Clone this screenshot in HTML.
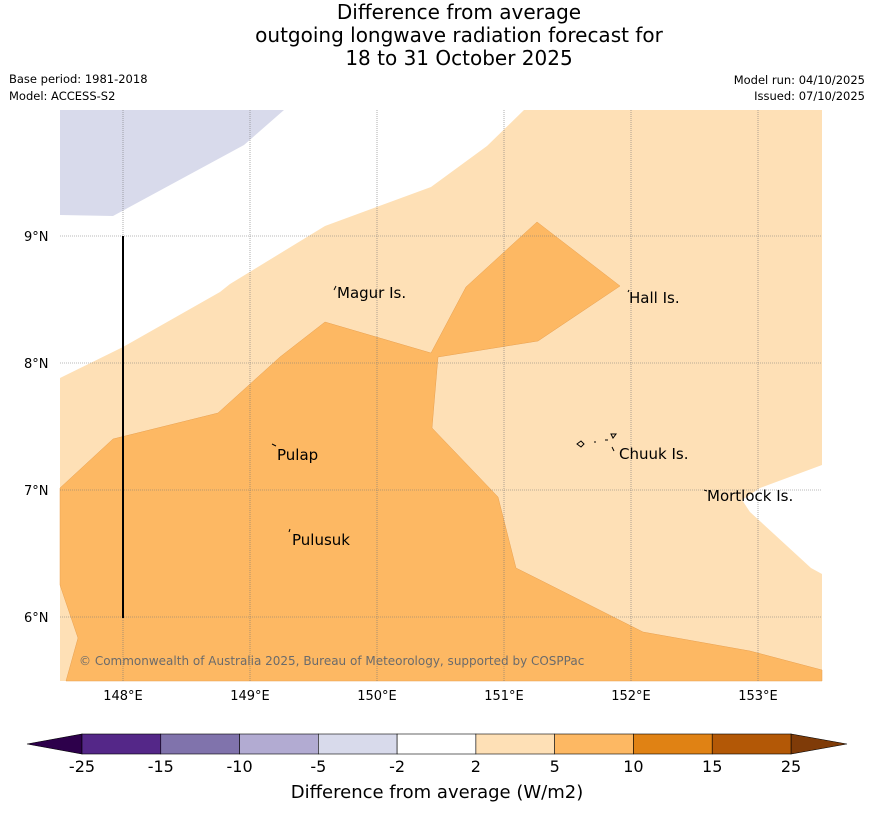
<!DOCTYPE html>
<html><head><meta charset="utf-8"><style>
body{margin:0;background:#fff;font-family:"Liberation Sans","DejaVu Sans",sans-serif}
</style></head><body>
<svg width="873" height="816" viewBox="0 0 873 816" style="display:block">
<g font-family="DejaVu Sans, Liberation Sans, sans-serif" fill="#000">
<text x="459" y="19" text-anchor="middle" font-size="20">Difference from average</text>
<text x="459" y="42" text-anchor="middle" font-size="20">outgoing longwave radiation forecast for</text>
<text x="459" y="65" text-anchor="middle" font-size="20">18 to 31 October 2025</text>
<text x="9" y="83" font-size="11.5">Base period: 1981-2018</text>
<text x="9" y="100" font-size="11.5">Model: ACCESS-S2</text>
<text x="865" y="84" font-size="11.5" text-anchor="end">Model run: 04/10/2025</text>
<text x="865" y="100" font-size="11.5" text-anchor="end">Issued: 07/10/2025</text>
</g>
<g>
<rect x="60" y="110" width="762" height="571" fill="#fee0b6"/>
<polygon fill="#ffffff" points="60,110 524,110 487,146 431,187 325,226 230,284 220,292 123,347 60,378"/>
<polygon fill="#d8daeb" points="60,110 284,110 244,145 113,216 60,215"/>
<polygon fill="#ffffff" points="822,465 760,488 742,500 750,512 811,568 822,574"/>
<polygon fill="#fdb863" stroke="#e8a050" stroke-width="0.5" points="60,488 113,439 218,413 280,357 325,322 431,353 466,287 537,222 620,286 538,341 438,357 432,428 498,497 516,568 540,580 643,632 750,651 822,670 822,681 66,681 78,638 60,585"/>
<g stroke="#777" stroke-width="0.6" stroke-dasharray="1,1">
<line x1="123" y1="110" x2="123" y2="681"/><line x1="250" y1="110" x2="250" y2="681"/><line x1="377" y1="110" x2="377" y2="681"/><line x1="504" y1="110" x2="504" y2="681"/><line x1="631" y1="110" x2="631" y2="681"/><line x1="758" y1="110" x2="758" y2="681"/>
<line x1="60" y1="236" x2="822" y2="236"/><line x1="60" y1="363" x2="822" y2="363"/><line x1="60" y1="490" x2="822" y2="490"/><line x1="60" y1="617" x2="822" y2="617"/>
</g>
<line x1="123" y1="236" x2="123" y2="618" stroke="#000" stroke-width="2"/>
<g fill="none" stroke="#000" stroke-width="1">
<path d="M334,290 l2,-4"/><path d="M272,444 l4,2"/><path d="M289,532 l1,-3"/><path d="M628,292 l1,-2"/><path d="M704,490 l3,1"/>
<path d="M577,444 l4,-3 l3,3 l-3,3z"/><path d="M594,442 l2,0"/><path d="M605,440 l3,0"/><path d="M611,434 l5,0 l-3,4z"/><path d="M612,447 l2,4"/>
</g>
<g font-family="DejaVu Sans, Liberation Sans, sans-serif" font-size="15" fill="#000">
<text x="337" y="298">Magur Is.</text>
<text x="629" y="303">Hall Is.</text>
<text x="277" y="460">Pulap</text>
<text x="619" y="459">Chuuk Is.</text>
<text x="707" y="501">Mortlock Is.</text>
<text x="292" y="545">Pulusuk</text>
</g>
<text x="79" y="665" font-size="12" fill="#6b6b6b" font-family="DejaVu Sans, Liberation Sans, sans-serif">© Commonwealth of Australia 2025, Bureau of Meteorology, supported by COSPPac</text>
</g>
<g font-family="DejaVu Sans, Liberation Sans, sans-serif" font-size="13" fill="#000">
<text x="24" y="241">9°N</text><text x="24" y="368">8°N</text><text x="24" y="495">7°N</text><text x="24" y="622">6°N</text>
<text x="123" y="700" text-anchor="middle">148°E</text><text x="250" y="700" text-anchor="middle">149°E</text><text x="377" y="700" text-anchor="middle">150°E</text><text x="504" y="700" text-anchor="middle">151°E</text><text x="631" y="700" text-anchor="middle">152°E</text><text x="758" y="700" text-anchor="middle">153°E</text>
</g>
<g id="cbar"></g>
<text x="437" y="798" text-anchor="middle" font-size="18" font-family="DejaVu Sans, Liberation Sans, sans-serif">Difference from average (W/m2)</text>
</svg>
<script>
const binLabels = ["-25","-15","-10","-5","-2","2","5","10","15","25"];
const binColors = ["#542788","#8073ac","#b2abd2","#d8daeb","#ffffff","#fee0b6","#fdb863","#e08214","#b35806"];
const extendColors = ["#2d004b","#7f3b08"];
const NS="http://www.w3.org/2000/svg";
const g=document.getElementById('cbar');
const x0=82,x1=791,y0=734,h=20,n=binColors.length,w=(x1-x0)/n;
function mk(t,a){const e=document.createElementNS(NS,t);for(const k in a)e.setAttribute(k,a[k]);g.appendChild(e);return e;}
let t=mk('polygon',{points:`${x0},${y0} ${x0},${y0+h} 27,${y0+h/2}`,fill:extendColors[0],stroke:'#000','stroke-width':0.6});


t=mk('polygon',{points:`${x1},${y0} ${x1},${y0+h} 847,${y0+h/2}`,fill:extendColors[1],stroke:'#000','stroke-width':0.6});


binColors.forEach((c,i)=>{
  const r=mk('rect',{x:x0+i*w,y:y0,width:w,height:h,fill:c,stroke:'#000','stroke-width':0.6});
  
  
});
binLabels.forEach((l,i)=>{
  const tx=mk('text',{x:x0+i*w,y:772,'text-anchor':'middle','font-size':16,'font-family':'DejaVu Sans, Liberation Sans, sans-serif'});
  tx.textContent=l;
  
  
});
</script>
</body></html>
